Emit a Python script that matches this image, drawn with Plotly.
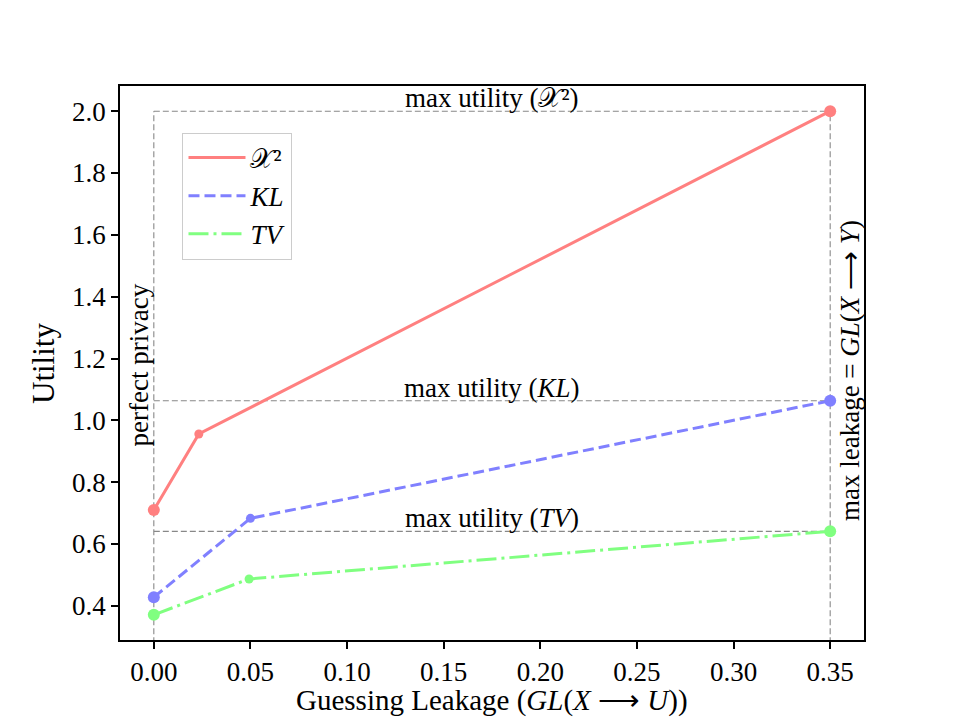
import plotly.graph_objects as go

# ---- data ----
series_names = ["𝒳²", "<i>KL</i>", "<i>TV</i>"]
x_chi = [0.0, 0.0233, 0.35]
y_chi = [0.71, 0.956, 2.0]
x_kl = [0.0, 0.05, 0.35]
y_kl = [0.428, 0.683, 1.0635]
x_tv = [0.0, 0.0493, 0.35]
y_tv = [0.371, 0.487, 0.641]
max_leak = 0.35
x_ticks = [0.0, 0.05, 0.10, 0.15, 0.20, 0.25, 0.30, 0.35]
y_ticks = [0.4, 0.6, 0.8, 1.0, 1.2, 1.4, 1.6, 1.8, 2.0]

colors = ["#ff8080", "#8080ff", "#80ff80"]
dashes = ["solid", "11px,5px", "20px,5px,3px,5px"]
FONT = "Liberation Serif"
FS = 27

ymin = min(y_tv) - 0.05 * (max(y_chi) - min(y_tv))
ymax = max(y_chi) + 0.05 * (max(y_chi) - min(y_tv))
xmin = -0.05 * max_leak
xmax = max_leak + 0.05 * max_leak

fig = go.Figure()

# reference (gray dashed) lines
ref = dict(color="#888888", width=1.1, dash="6px,3px")
maxes = [max(y_chi), max(y_kl), max(y_tv)]
for m in maxes:
    fig.add_trace(go.Scatter(x=[0, max_leak], y=[m, m], mode="lines", line=ref,
                             showlegend=False, hoverinfo="skip"))
for xv in [0, max_leak]:
    fig.add_trace(go.Scatter(x=[xv, xv], y=[ymin - 1, max(y_chi)], mode="lines", line=ref,
                             showlegend=False, hoverinfo="skip"))

msize = [12, 9, 12]
for i, (xs, ys) in enumerate([(x_chi, y_chi), (x_kl, y_kl), (x_tv, y_tv)]):
    fig.add_trace(go.Scatter(x=xs, y=ys, mode="lines", name=series_names[i],
                             line=dict(color=colors[i], width=3, dash=dashes[i]),
                             legendgroup=f"g{i}"))
    fig.add_trace(go.Scatter(x=xs, y=ys, mode="markers", showlegend=False,
                             marker=dict(color=colors[i], size=msize, opacity=1,
                                         line=dict(width=0)),
                             legendgroup=f"g{i}"))

ann = []
labels = ["max utility (𝒳²)", "max utility (<i>KL</i>)", "max utility (<i>TV</i>)"]
for lab, m in zip(labels, maxes):
    ann.append(dict(x=max_leak / 2, y=m, xref="x", yref="y", text=lab, showarrow=False,
                    xanchor="center", yanchor="bottom", yshift=-4,
                    font=dict(family=FONT, size=FS, color="black")))
ann.append(dict(x=0, y=1.18, xref="x", yref="y", text="perfect privacy", showarrow=False,
                textangle=-90, xanchor="right", yanchor="middle", xshift=2,
                font=dict(family=FONT, size=FS, color="black")))
ann.append(dict(x=max_leak, y=1.16, xref="x", yref="y",
                text="max leakage = <i>GL</i>(<i>X</i> ⟶ <i>Y</i>)", showarrow=False,
                textangle=-90, xanchor="left", yanchor="middle", xshift=3,
                font=dict(family=FONT, size=FS, color="black")))
# axis titles
TFS = 29
ann.append(dict(x=0.5, y=-0.1417, xref="paper", yref="paper",
                text="Guessing Leakage (<i>GL</i>(<i>X</i> ⟶ <i>U</i>))", showarrow=False,
                xanchor="center", yanchor="bottom",
                font=dict(family=FONT, size=TFS, color="black")))
ann.append(dict(x=-0.1035, y=0.5, xref="paper", yref="paper", text="Utility",
                showarrow=False, textangle=-90, xanchor="center", yanchor="middle",
                font=dict(family=FONT, size=31, color="black")))

fig.update_layout(
    width=960, height=720,
    margin=dict(l=120, r=96, t=86, b=80),
    paper_bgcolor="white", plot_bgcolor="white",
    font=dict(family=FONT, size=FS, color="black"),
    annotations=ann,
    showlegend=True,
    legend=dict(x=0.084, y=0.916, xanchor="left", yanchor="top",
                bgcolor="white", bordercolor="#cccccc", borderwidth=1,
                font=dict(family=FONT, size=FS), tracegroupgap=0,
                itemwidth=57),
    xaxis=dict(range=[xmin, xmax], tickvals=x_ticks, tickformat=".2f",
               ticks="outside", ticklen=7, tickwidth=1.6, tickcolor="black",
               showline=True, linecolor="black", linewidth=1.6, mirror=True,
               showgrid=False, zeroline=False, automargin=False,
               tickfont=dict(size=FS)),
    yaxis=dict(range=[ymin, ymax], tickvals=y_ticks, tickformat=".1f",
               ticks="outside", ticklen=7, tickwidth=1.6, tickcolor="black",
               showline=True, linecolor="black", linewidth=1.6, mirror=True,
               showgrid=False, zeroline=False, automargin=False,
               tickfont=dict(size=FS)),
)

fig.write_html("out.html")
